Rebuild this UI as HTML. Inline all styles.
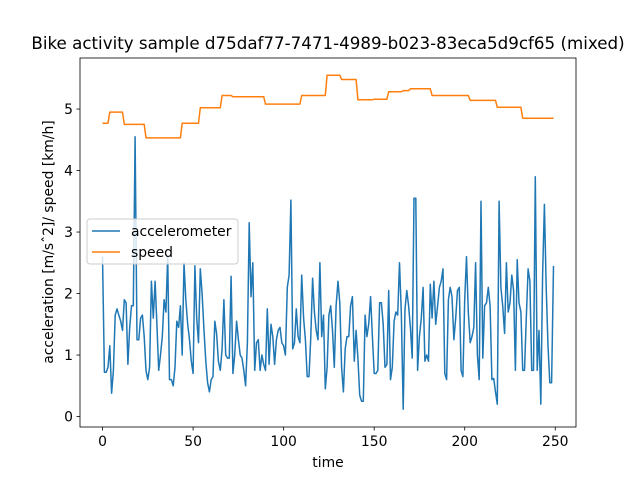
<!DOCTYPE html>
<html><head><meta charset="utf-8"><style>
body{margin:0;background:#fff;font-family:"Liberation Sans","DejaVu Sans",sans-serif}
</style></head><body>
<svg id="c" width="640" height="480" xmlns="http://www.w3.org/2000/svg" font-family="DejaVu Sans, Liberation Sans, sans-serif"></svg>
<script>
const accel=[2.6,0.72,0.72,0.8,1.15,0.38,0.75,1.65,1.75,1.65,
1.55,1.4,1.9,1.85,0.85,1.45,1.8,1.8,4.55,1.25,
1.25,1.6,1.65,1.3,0.75,0.6,0.8,2.2,1.6,2.2,
1.5,0.75,1.0,1.3,1.9,1.7,2.6,0.6,0.6,0.5,
0.8,1.55,1.45,1.8,1.0,2.5,1.9,1.5,1.25,0.9,
0.7,2.45,1.6,1.2,2.4,2.0,1.4,0.9,0.55,0.4,
0.6,0.65,1.55,1.35,0.9,0.75,1.1,1.9,1.0,0.95,
0.95,2.28,0.7,1.0,1.55,1.25,1.0,0.95,0.75,0.5,
1.2,3.15,1.95,2.5,0.75,1.2,1.25,0.75,1.0,0.85,
0.75,1.75,0.85,1.5,1.3,0.85,1.25,1.4,1.45,1.2,
1.15,1.0,2.1,2.3,3.52,1.1,1.2,1.75,1.3,1.2,
2.3,1.6,1.25,0.65,0.65,1.3,2.25,1.7,1.4,1.25,
2.5,1.3,1.65,0.45,0.8,1.65,1.8,1.4,0.8,1.8,
2.2,1.85,0.8,0.4,1.1,1.3,1.3,1.8,1.95,0.9,
1.4,0.95,0.35,0.25,0.25,1.65,1.3,1.5,1.95,1.3,
0.7,0.7,0.75,1.85,1.85,1.5,0.8,0.85,2.05,0.6,
0.8,1.55,1.7,1.65,2.5,1.7,0.12,1.75,2.05,1.8,
1.45,0.95,3.55,3.55,0.75,1.3,1.6,2.1,0.9,1.0,
0.9,2.15,1.6,2.2,1.5,1.8,2.1,2.2,2.4,0.7,
0.6,1.9,2.1,1.95,1.25,1.6,2.05,2.1,0.75,0.65,
1.9,2.6,1.7,1.2,1.3,1.45,2.5,1.0,0.6,3.5,
0.95,1.8,1.85,2.1,1.8,0.6,0.62,0.4,0.2,3.5,
2.1,1.8,1.35,2.5,1.7,1.85,2.3,2.05,0.75,2.55,
1.85,1.7,0.75,0.75,1.6,2.4,2.2,0.75,0.75,3.9,
0.75,1.4,0.2,2.3,3.45,2.1,1.15,0.55,0.55,2.45];
const speedSteps=[0,4,12,24,44,54,66,72,90,110,124,132,141,150,158,166,170,182,203,218,232];
const speedVals=[4.77,4.95,4.75,4.53,4.77,5.02,5.22,5.2,5.08,5.22,5.55,5.48,5.15,5.16,5.28,5.3,5.33,5.22,5.14,5.03,4.85];
const xTicks=[0,50,100,150,200,250];
const yTicks=[0,1,2,3,4,5];
const NS="http://www.w3.org/2000/svg",svg=document.getElementById('c');
const L=80,R=576,T=58,B=427,X0=-12.45,X1=261.45,Y0=-0.17,Y1=5.83;
const sx=v=>L+(v-X0)/(X1-X0)*(R-L), sy=v=>B-(v-Y0)/(Y1-Y0)*(B-T);
function el(t,a,p){const e=document.createElementNS(NS,t);for(const k in a)e.setAttribute(k,a[k]);(p||svg).appendChild(e);return e;}
const speed=[];for(let i=0;i<250;i++){let v=speedVals[0];for(let j=0;j<speedSteps.length;j++)if(i>=speedSteps[j])v=speedVals[j];speed.push(v);}
let d='';accel.forEach((v,i)=>d+=(i?'L':'M')+sx(i).toFixed(1)+' '+sy(v).toFixed(1));
const a=el('path',{d,fill:'none',stroke:'#1f77b4','stroke-width':1.5,'stroke-linejoin':'round'});


d='';speed.forEach((v,i)=>d+=(i?'L':'M')+sx(i).toFixed(1)+' '+sy(v).toFixed(1));
const s=el('path',{d,fill:'none',stroke:'#ff7f0e','stroke-width':1.5,'stroke-linejoin':'round'});


const fr=el('rect',{x:L,y:T,width:R-L,height:B-T,fill:'none',stroke:'#000','stroke-width':0.8});


xTicks.forEach(t=>{const x=sx(t);el('line',{x1:x,x2:x,y1:B,y2:B+3.5,stroke:'#000','stroke-width':0.8});
const tx=el('text',{x:x,y:B+19,'text-anchor':'middle','font-size':13.9,fill:'#000'});tx.textContent=t;

});
yTicks.forEach(t=>{const y=sy(t);el('line',{x1:L-3.5,x2:L,y1:y,y2:y,stroke:'#000','stroke-width':0.8});
const tx=el('text',{x:L-7,y:y+5,'text-anchor':'end','font-size':13.9,fill:'#000'});tx.textContent=t;

});
</script>
<svg width="640" height="480" style="position:absolute;left:0;top:0" font-family="DejaVu Sans, Liberation Sans, sans-serif">
<text x="328" y="49" text-anchor="middle" font-size="16.7">Bike activity sample d75daf77-7471-4989-b023-83eca5d9cf65 (mixed)</text>
<text x="328" y="467" text-anchor="middle" font-size="13.9">time</text>
<text transform="translate(53,242) rotate(-90)" text-anchor="middle" font-size="13.9">acceleration [m/sˆ2]/ speed [km/h]</text>
<g>
<rect x="87" y="219" width="151" height="45" rx="3" fill="#fff" fill-opacity="0.8" stroke="#ccc"/>
<line x1="92" x2="120" y1="231" y2="231" stroke="#1f77b4" stroke-width="1.5"/>
<text x="131" y="236" font-size="13.9">accelerometer</text>
<line x1="92" x2="120" y1="252" y2="252" stroke="#ff7f0e" stroke-width="1.5"/>
<text x="131" y="257" font-size="13.9">speed</text>
</g>
</svg>
</body></html>
